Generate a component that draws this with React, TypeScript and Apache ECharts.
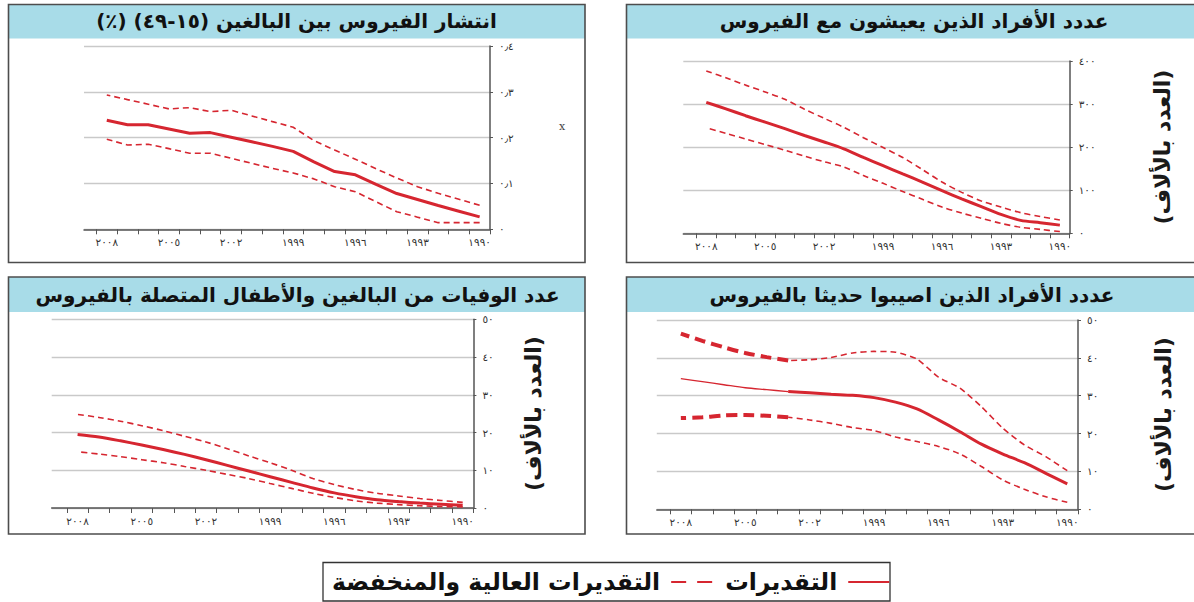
import React, { useEffect, useRef } from "react";
import * as echarts from "echarts";

// ---------- data ----------
const years = [1990, 1991, 1992, 1993, 1994, 1995, 1996, 1997, 1998, 1999, 2000, 2001, 2002, 2003, 2004, 2005, 2006, 2007, 2008];
const labelYears = [1990, 1993, 1996, 1999, 2002, 2005, 2008];

// Panel 1: prevalence among adults 15-49 (%)
const prevEst = [0.027, 0.0395, 0.052, 0.065, 0.078, 0.098, 0.119, 0.126, 0.147, 0.17, 0.181, 0.191, 0.201, 0.211, 0.2095, 0.219, 0.228, 0.228, 0.238];
const prevHigh = [0.0524, 0.0655, 0.0786, 0.093, 0.112, 0.132, 0.153, 0.173, 0.1935, 0.2227, 0.235, 0.2474, 0.2598, 0.2568, 0.2655, 0.2627, 0.273, 0.283, 0.2932];
const prevLow = [0.0145, 0.0145, 0.0145, 0.0265, 0.0385, 0.06, 0.082, 0.093, 0.11, 0.123, 0.133, 0.144, 0.155, 0.166, 0.166, 0.176, 0.1856, 0.184, 0.1965];

// Panel 2: people living with HIV (thousands)
const livingEst = [19, 24.5, 30, 44, 62, 80, 99, 119, 138, 157, 176, 196, 212, 227, 243, 258, 273, 289, 304];
const livingHigh = [31, 39, 48, 61, 75, 95, 119, 148, 176, 199, 222, 246, 267, 288, 311, 328, 344, 361, 377];
const livingLow = [4, 9, 14, 23, 35, 47, 61, 79, 97, 116, 134, 154, 166, 179, 193, 206, 219, 232, 245];

// Panel 3: deaths (thousands)
const deathsEst = [0.7, 1.0, 1.3, 1.7, 2.2, 3.0, 4.0, 5.3, 6.8, 8.3, 9.8, 11.3, 12.8, 14.2, 15.5, 16.7, 17.8, 18.8, 19.5];
const deathsHigh = [1.5, 2.0, 2.5, 3.2, 3.9, 4.9, 6.2, 7.8, 10.0, 12.0, 13.8, 15.7, 17.5, 19.0, 20.5, 21.8, 23.0, 24.0, 24.8];
const deathsLow = [0.3, 0.4, 0.6, 0.9, 1.3, 1.9, 2.8, 3.9, 5.2, 6.5, 7.8, 8.9, 10.0, 11.0, 12.0, 12.8, 13.6, 14.3, 14.9];

// Panel 4: newly infected (thousands)
const newEst = [6.7, 9.5, 12.3, 14.6, 17.2, 20.5, 23.6, 26.5, 28.3, 29.5, 30.1, 30.4, 30.8, 31.1, 31.6, 32.1, 32.9, 33.7, 34.5];
const newHigh = [10.2, 13.9, 17.0, 21.4, 27.1, 32.0, 34.9, 39.7, 41.5, 41.7, 41.3, 40.1, 39.5, 39.3, 40.2, 41.3, 42.8, 44.5, 46.4];
const newLow = [1.85, 3.3, 5.3, 7.75, 11.3, 14.6, 16.6, 17.9, 19.1, 20.8, 21.6, 22.7, 23.6, 24.3, 24.7, 24.9, 24.8, 24.3, 24.1];

const titles = [
  "\u200Fانتشار الفيروس بين البالغين (١٥-٤٩) (٪)\u200F",
  "عددد الأفراد الذين يعيشون مع الفيروس",
  "عدد الوفيات من البالغين والأطفال المتصلة بالفيروس",
  "عددد الأفراد الذين اصيبوا حديثا بالفيروس",
];
const yName = "\u200F(العدد بالألاف)\u200F";
const nameEst = "التقديرات";
const nameRange = "التقديرات العالية والمنخفضة";

// ---------- style / layout ----------
const FONT = '"DejaVu Sans", sans-serif';
const RED = "#d62630";
const AXIS = "#555";
const GRIDLINE = "#c9c9c9";
const TITLE_BG = "#a8dce8";

const AR = "٠١٢٣٤٥٦٧٨٩";
const toAr = (s: string) => s.replace(/\d/g, (d) => AR[+d]).replace(".", "٫");

const layouts = [
  { left: 84, top: 46, width: 406, height: 183.3, xMax: 2009.1, yMax: 0.4, yInt: 0.1, nameGap: 0 },
  { left: 683.3, top: 61, width: 386.4, height: 172.3, xMax: 2009.17, yMax: 400, yInt: 100, nameGap: 82 },
  { left: 51.7, top: 319.3, width: 421.7, height: 188.7, xMax: 2009.21, yMax: 50, yInt: 10, nameGap: 49 },
  { left: 656.8, top: 320, width: 421.2, height: 189.3, xMax: 2009.12, yMax: 50, yInt: 10, nameGap: 74 },
];

const boxes = [
  { x: 8.5, y: 4.5, w: 576.5, h: 258, th: 34, tx: 296.5, ty: 21 },
  { x: 626.5, y: 4.5, w: 577, h: 258, th: 34, tx: 914, ty: 21 },
  { x: 8.5, y: 277, w: 576.5, h: 257, th: 35, tx: 297.5, ty: 295 },
  { x: 626.5, y: 277, w: 577, h: 257, th: 35, tx: 912, ty: 295 },
];

const tickVals = [...years.map((y) => y - 0.5), years[years.length - 1] + 0.5];

function pts(vals: number[], lo = -Infinity, hi = Infinity) {
  const out: number[][] = [];
  years.forEach((y, i) => {
    if (y >= lo && y <= hi) out.push([y, vals[i]]);
  });
  return out;
}

function solid(g: number, vals: number[], width: number, smooth: number | boolean, lo?: number, hi?: number) {
  return {
    type: "line",
    name: nameEst,
    xAxisIndex: g,
    yAxisIndex: g,
    data: pts(vals, lo, hi),
    symbol: "none",
    smooth,
    color: RED,
    lineStyle: { color: RED, width, type: "solid", cap: "butt" },
    z: 4,
  };
}

function dashed(g: number, vals: number[], width: number, dash: number[], smooth: number | boolean, lo?: number, hi?: number) {
  return {
    type: "line",
    name: nameRange,
    xAxisIndex: g,
    yAxisIndex: g,
    data: pts(vals, lo, hi),
    symbol: "none",
    smooth,
    color: RED,
    lineStyle: { color: RED, width, type: dash, cap: "butt" },
    z: 3,
  };
}

function buildOption() {
  const grid = layouts.map((l) => ({
    left: l.left,
    top: l.top,
    width: l.width,
    height: l.height,
    containLabel: false,
    outerBoundsMode: "none",
  }));

  const xAxis = layouts.map((l, i) => ({
    type: "value",
    gridIndex: i,
    inverse: true,
    min: 1989.5,
    max: l.xMax,
    splitLine: { show: false },
    axisLine: { show: true, onZero: false, lineStyle: { color: AXIS, width: 1.5 } },
    axisTick: { show: true, customValues: tickVals, length: 5, lineStyle: { color: AXIS, width: 1 } },
    axisLabel: {
      customValues: labelYears,
      formatter: (v: number) => toAr(String(Math.round(v))),
      fontSize: 10.5,
      color: "#333",
      margin: 7,
      fontFamily: FONT,
    },
  }));

  const yAxis = layouts.map((l, i) => ({
    type: "value",
    gridIndex: i,
    position: "right",
    min: 0,
    max: l.yMax,
    interval: l.yInt,
    name: i === 0 ? "" : yName,
    nameLocation: "middle",
    nameGap: l.nameGap,
    nameRotate: 90,
    nameTextStyle: { fontSize: 22, fontWeight: "bold", color: "#1a1a1a", fontFamily: FONT },
    splitLine: { show: true, lineStyle: { color: GRIDLINE, width: 1.3 } },
    axisLine: { show: true, lineStyle: { color: AXIS, width: 1.5 } },
    axisTick: { show: true, length: 3, lineStyle: { color: AXIS } },
    axisLabel: {
      formatter: (v: number) => (v === 0 ? "٠" : i === 0 ? toAr(v.toFixed(1)) : toAr(String(Math.round(v)))),
      fontSize: 10.5,
      color: "#333",
      margin: 9,
      fontFamily: FONT,
    },
  }));

  const thinDash = [6, 4];
  const series: any[] = [
    solid(0, prevEst, 3, false),
    dashed(0, prevHigh, 1.6, thinDash, false),
    dashed(0, prevLow, 1.6, thinDash, false),

    solid(1, livingEst, 3, 0.3),
    dashed(1, livingHigh, 1.6, thinDash, 0.3),
    dashed(1, livingLow, 1.6, thinDash, 0.3),

    solid(2, deathsEst, 3, 0.3),
    dashed(2, deathsHigh, 1.6, thinDash, 0.3),
    dashed(2, deathsLow, 1.6, thinDash, 0.3),

    solid(3, newEst, 1.3, 0.3, 2003, 2008),
    solid(3, newEst, 3, 0.3, 1990, 2003),
    dashed(3, newHigh, 4, [11, 6], 0.3, 2003, 2008),
    dashed(3, newHigh, 1.6, thinDash, 0.2, 1990, 2003),
    dashed(3, newLow, 4, [11, 6], 0.3, 2003, 2008),
    dashed(3, newLow, 1.6, thinDash, 0.3, 1990, 2003),
  ];

  const graphic: any[] = [];
  boxes.forEach((b, i) => {
    graphic.push({
      type: "rect",
      shape: { x: b.x, y: b.y, width: b.w, height: b.th },
      style: { fill: TITLE_BG },
      z: 0,
    });
    graphic.push({
      type: "rect",
      shape: { x: b.x, y: b.y, width: b.w, height: b.h },
      style: { fill: "none", stroke: "#4d4d4d", lineWidth: 1.6 },
      z: 1,
    });
    graphic.push({
      type: "text",
      x: b.tx,
      y: b.ty,
      style: {
        text: titles[i],
        fill: "#111",
        font: `bold 20px ${FONT}`,
        textAlign: "center",
        textVerticalAlign: "middle",
      },
      z: 2,
    });
  });
  // stray mark next to panel 1
  graphic.push({
    type: "text",
    x: 562,
    y: 126,
    style: { text: "x", fill: "#444", font: `11px "DejaVu Serif", serif`, textAlign: "center", textVerticalAlign: "middle" },
  });
  // legend frame
  graphic.push({
    type: "rect",
    shape: { x: 323, y: 562.5, width: 567, height: 38.5 },
    style: { fill: "none", stroke: "#333", lineWidth: 1.3 },
  });

  return {
    animation: false,
    backgroundColor: "#fff",
    textStyle: { fontFamily: FONT },
    grid,
    xAxis,
    yAxis,
    series,
    graphic,
    legend: {
      left: 327,
      top: 565,
      align: "right",
      orient: "horizontal",
      itemWidth: 41,
      itemHeight: 14,
      itemGap: 12,
      selectedMode: false,
      textStyle: { fontSize: 23.5, fontWeight: "bold", color: "#111", fontFamily: FONT, padding: [0, 6, 0, 0] },
      data: [
        { name: nameRange, lineStyle: { color: RED, width: 2, type: [15, 11] }, itemStyle: { opacity: 0 } },
        { name: nameEst, lineStyle: { color: RED, width: 2, type: "solid" }, itemStyle: { opacity: 0 } },
      ],
    },
  };
}

export default function App() {
  const ref = useRef<HTMLDivElement>(null);
  useEffect(() => {
    if (!ref.current) return;
    const chart = echarts.init(ref.current, null, { renderer: "svg" });
    chart.setOption(buildOption() as any);
    return () => chart.dispose();
  }, []);
  return (
    <div
      ref={ref}
      style={{ position: "fixed", left: 0, top: 0, width: 1194, height: 602, background: "#fff" }}
    />
  );
}
